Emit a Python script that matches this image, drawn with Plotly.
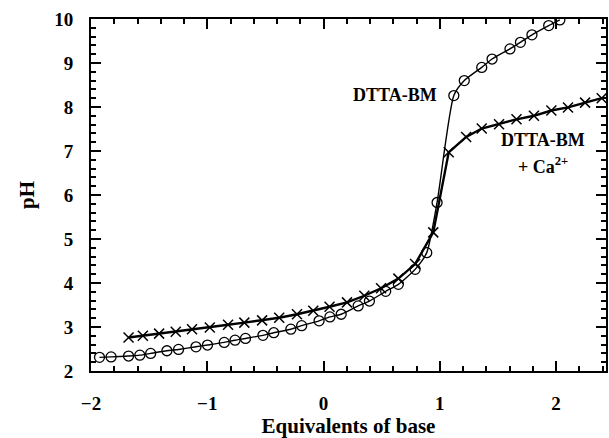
import plotly.graph_objects as go

# DTTA-BM (open circles)
bm_x = [-1.927, -1.827, -1.677, -1.580, -1.487, -1.347, -1.247, -1.097, -0.998, -0.854,
        -0.761, -0.671, -0.521, -0.428, -0.281, -0.188, -0.038, 0.055, 0.152, 0.298,
        0.395, 0.535, 0.644, 0.788, 0.888, 0.977, 1.121, 1.211, 1.361, 1.450,
        1.604, 1.694, 1.793, 1.937, 2.033]
bm_y = [2.31, 2.32, 2.34, 2.36, 2.40, 2.46, 2.49, 2.55, 2.59, 2.65,
        2.70, 2.74, 2.81, 2.87, 2.95, 3.03, 3.14, 3.23, 3.29, 3.48,
        3.59, 3.81, 3.97, 4.31, 4.69, 5.83, 8.26, 8.60, 8.90, 9.09,
        9.32, 9.47, 9.64, 9.85, 9.98]

# DTTA-BM + Ca2+ (crosses)
ca_x = [-1.677, -1.554, -1.414, -1.271, -1.131, -0.978, -0.821, -0.681, -0.528, -0.381,
        -0.228, -0.088, 0.052, 0.202, 0.351, 0.495, 0.644, 0.788, 0.944, 1.077,
        1.227, 1.361, 1.510, 1.660, 1.810, 1.960, 2.103, 2.250, 2.393]
ca_y = [2.76, 2.80, 2.85, 2.89, 2.95, 2.99, 3.05, 3.10, 3.15, 3.21,
        3.29, 3.37, 3.46, 3.56, 3.71, 3.88, 4.10, 4.43, 5.15, 6.97,
        7.32, 7.51, 7.61, 7.72, 7.80, 7.92, 7.99, 8.10, 8.20]

X_RANGE = [-2, 2.43]
Y_RANGE = [2, 10]

FONT = "Liberation Serif, Times New Roman, DejaVu Serif, serif"

fig = go.Figure()
fig.add_trace(go.Scatter(
    x=bm_x, y=bm_y, mode="lines+markers",
    line=dict(color="black", width=1.4, shape="spline", smoothing=0.6),
    marker=dict(symbol="circle-open", size=10, color="black", line=dict(width=1.3)),
    showlegend=False))
fig.add_trace(go.Scatter(
    x=ca_x, y=ca_y, mode="lines+markers",
    line=dict(color="black", width=2.4),
    marker=dict(symbol="x-thin-open", size=10, color="black", line=dict(width=1.5, color="black")),
    showlegend=False))

fig.add_annotation(x=0.99, y=8.27, text="<b>DTTA-BM</b>", showarrow=False,
                   xanchor="right", yanchor="middle",
                   font=dict(family=FONT, size=18, color="black"))
fig.add_annotation(x=1.889, y=7.25, text="<b>DTTA-BM</b>", showarrow=False,
                   xanchor="center", yanchor="middle",
                   font=dict(family=FONT, size=18, color="black"))
fig.add_annotation(x=1.889, y=6.68, text="<b>+ Ca<sup>2+</sup></b>", showarrow=False,
                   xanchor="center", yanchor="middle",
                   font=dict(family=FONT, size=18, color="black"))

major = dict(
    showgrid=False, zeroline=False, showline=True, linecolor="black", linewidth=2,
    mirror="allticks", ticks="inside", tickcolor="black", tickwidth=2, ticklen=10,
    tickmode="linear", tick0=0, dtick=1,
    tickfont=dict(family=FONT, size=19, color="black", weight="bold"),
    minor=dict(ticks="inside", ticklen=5, tickwidth=1.5, tickcolor="black",
               dtick=0.2, tick0=0, showgrid=False),
)

fig.update_layout(
    width=609, height=438,
    margin=dict(l=91, r=1, t=19, b=67),
    paper_bgcolor="white", plot_bgcolor="white",
    xaxis=dict(**major, range=X_RANGE, ticklabelstandoff=14,
               title=dict(text="<b>Equivalents of base</b>",
                          font=dict(family=FONT, size=21, color="black"), standoff=6)),
    yaxis=dict(**major, range=Y_RANGE, ticklabelstandoff=12,
               title=dict(text="<b>pH</b>",
                          font=dict(family=FONT, size=21, color="black"), standoff=14)),
)

fig.write_html("out.html")
